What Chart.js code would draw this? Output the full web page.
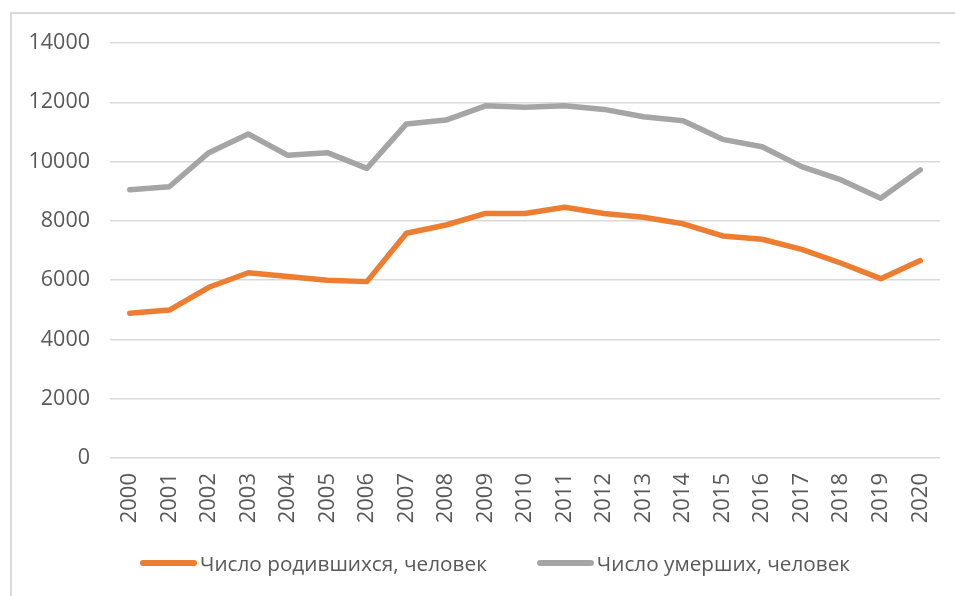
<!DOCTYPE html>
<html>
<head>
<meta charset="utf-8">
<script src="https://cdn.jsdelivr.net/npm/chart.js@4/dist/chart.umd.min.js"></script>
<style>
  html, body { margin: 0; padding: 0; background: #ffffff; }
  #wrap { position: relative; width: 955px; height: 596px; overflow: hidden; }
  #frame { position: absolute; left: 10px; top: 12px; width: 960px; height: 600px;
           border-left: 2px solid #d9d9d9; border-top: 2px solid #d9d9d9; box-sizing: border-box; }
  canvas { position: absolute; left: 0; top: 0; }
  #legend { position: absolute; top: 550px; left: 0; height: 26px; }
  .item { position: absolute; top: 0; height: 26px; white-space: nowrap; }
  .swatch { position: absolute; top: 10px; left: 0; height: 6px; border-radius: 3px; }
  .lbl { position: absolute; top: 0; line-height: 26px; color: #595959; }
</style>
</head>
<body>
<div id="wrap">
  <div id="frame"></div>
  <canvas id="c" width="955" height="596"></canvas>
  <div id="legend"></div>
</div>
<script>
const years = ['2000','2001','2002','2003','2004','2005','2006','2007','2008','2009','2010',
               '2011','2012','2013','2014','2015','2016','2017','2018','2019','2020'];
const births = [4880, 4990, 5760, 6250, 6120, 6000, 5950, 7580, 7860, 8250, 8250,
                8460, 8250, 8120, 7900, 7490, 7380, 7040, 6570, 6050, 6660];
const deaths = [9050, 9150, 10300, 10930, 10210, 10300, 9770, 11270, 11400, 11880, 11830,
                11880, 11760, 11510, 11380, 10750, 10500, 9830, 9380, 8760, 9720];
const seriesNames = ['Число родившихся, человек', 'Число умерших, человек'];
const seriesColors = ['#ED7D31', '#A5A5A5'];
const yTicks = [0, 2000, 4000, 6000, 8000, 10000, 12000, 14000];

const chart = new Chart(document.getElementById('c'), {
  type: 'line',
  data: {
    labels: years,
    datasets: [
      { label: seriesNames[0], data: births, borderColor: seriesColors[0], backgroundColor: seriesColors[0],
        borderWidth: 5.5, pointRadius: 0, tension: 0, borderJoinStyle: 'round', borderCapStyle: 'round' },
      { label: seriesNames[1], data: deaths, borderColor: seriesColors[1], backgroundColor: seriesColors[1],
        borderWidth: 5.5, pointRadius: 0, tension: 0, borderJoinStyle: 'round', borderCapStyle: 'round' }
    ]
  },
  options: {
    responsive: false,
    animation: false,
    layout: { padding: { left: 10, right: 15, top: 43, bottom: 53 } },
    plugins: {
      tooltip: { enabled: false },
      legend: { display: false }
    },
    scales: {
      x: {
        offset: true,
        grid: { display: false, drawTicks: false },
        border: { display: false },
        ticks: { minRotation: 90, maxRotation: 90, padding: 15, color: '#595959',
                 font: { family: 'Open Sans', size: 22 } },
        afterFit: (s) => { s.height = 85; s.paddingLeft = 0; s.paddingRight = 0; }
      },
      y: {
        min: 0, max: 14000,
        afterBuildTicks: (s) => { s.ticks = yTicks.map(v => ({ value: v })); },
        grid: { color: '#d9d9d9', lineWidth: 1.5, drawTicks: false },
        border: { display: false },
        ticks: { padding: 20, color: '#595959', font: { family: 'Open Sans', size: 21.5 },
                 callback: (v) => String(v) },
        afterFit: (s) => { s.width = 100; s.paddingTop = 0; s.paddingBottom = 0; }
      }
    }
  }
});

// HTML legend built from the chart's datasets
(function buildLegend() {
  const legend = document.getElementById('legend');
  const ctx = document.createElement('canvas').getContext('2d');
  let family = "'Liberation Sans Narrow', 'Open Sans', sans-serif";
  ctx.font = '20px ' + family;
  const w20 = ctx.measureText(seriesNames[0]).width;
  const size = Math.min(24, 20 * 287 / w20);
  ctx.font = size + 'px ' + family;
  const swatchW = 57, gapText = 3, gapItems = 50;
  let x = 140;
  chart.data.datasets.forEach((ds, i) => {
    const item = document.createElement('div');
    item.className = 'item';
    item.style.left = x + 'px';
    const sw = document.createElement('div');
    sw.className = 'swatch';
    sw.style.width = swatchW + 'px';
    sw.style.background = ds.borderColor;
    const lbl = document.createElement('div');
    lbl.className = 'lbl';
    lbl.style.left = (swatchW + gapText) + 'px';
    lbl.style.font = size + 'px ' + family;
    lbl.style.lineHeight = '26px';
    lbl.textContent = ds.label;
    item.appendChild(sw);
    item.appendChild(lbl);
    legend.appendChild(item);
    x += swatchW + gapText + ctx.measureText(ds.label).width + gapItems;
  });
})();
</script>
</body>
</html>
